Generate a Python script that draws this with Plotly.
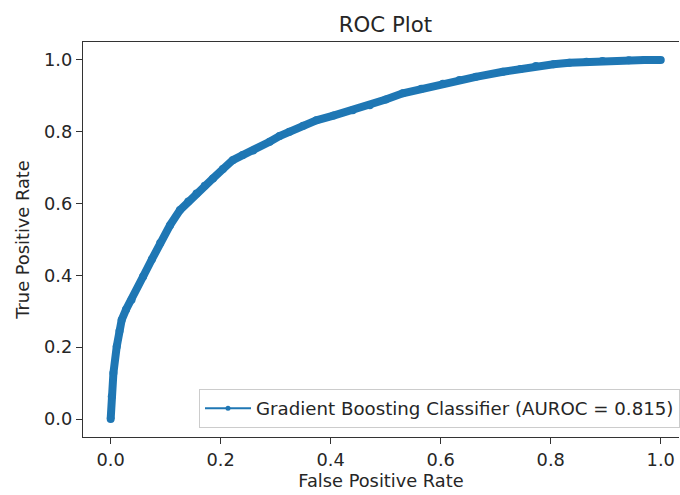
import plotly.graph_objects as go

# ROC curve of the gradient boosting classifier
fpr = [0.000, 0.002, 0.005, 0.011, 0.016, 0.020, 0.028, 0.038, 0.059, 0.075,
       0.090, 0.108, 0.126, 0.141, 0.156, 0.171, 0.186, 0.204, 0.222, 0.240,
       0.259, 0.289, 0.307, 0.325, 0.350, 0.374, 0.405, 0.440, 0.471, 0.500,
       0.531, 0.565, 0.604, 0.634, 0.664, 0.713, 0.745, 0.773, 0.805, 0.834,
       0.865, 0.894, 0.942, 0.970, 1.000]
tpr = [0.000, 0.063, 0.128, 0.202, 0.245, 0.276, 0.305, 0.332, 0.397, 0.445,
       0.490, 0.540, 0.582, 0.606, 0.628, 0.650, 0.670, 0.696, 0.721, 0.735,
       0.748, 0.772, 0.788, 0.800, 0.817, 0.832, 0.845, 0.860, 0.874, 0.890,
       0.907, 0.920, 0.934, 0.944, 0.953, 0.967, 0.975, 0.983, 0.988, 0.992,
       0.995, 0.997, 0.999, 1.000, 1.000]
auroc = 0.815
model_name = "Gradient Boosting Classifier"
tick_vals = [0.0, 0.2, 0.4, 0.6, 0.8, 1.0]

BLUE = "#1f77b4"
INK = "#262626"
FONT = "DejaVu Sans"
TXT = 17.8

fig = go.Figure()

# dense band of overlapping point markers
fig.add_trace(go.Scatter(
    x=fpr, y=tpr, mode="lines+markers",
    line=dict(color=BLUE, width=8),
    marker=dict(color=BLUE, size=8),
    showlegend=False, hoverinfo="skip",
))
# thin line-with-dots style (drives the legend entry)
fig.add_trace(go.Scatter(
    x=fpr, y=tpr, mode="lines+markers",
    line=dict(color=BLUE, width=2),
    marker=dict(color=BLUE, size=5),
    name=f"{model_name} (AUROC = {auroc})",
))

axis_common = dict(
    showline=True, linecolor="#333333", linewidth=1.3,
    ticks="outside", ticklen=6, tickwidth=1.3, tickcolor="#333333",
    showgrid=False, zeroline=False,
    tickvals=tick_vals, tickformat=".1f",
    tickfont=dict(family=FONT, size=TXT, color=INK),
)

fig.update_layout(
    width=680, height=495,
    margin=dict(l=83, r=0, t=42, b=58),
    paper_bgcolor="white", plot_bgcolor="white",
    font=dict(family=FONT, size=TXT, color=INK),
    title=dict(text="ROC Plot", x=0.5075, xref="paper", xanchor="center",
               y=1 - 25 / 495, yref="container", yanchor="middle",
               font=dict(family=FONT, size=21.3, color=INK)),
    xaxis=dict(range=[-0.0503, 1.0332], mirror=True,
               title=dict(text="False Positive Rate", standoff=5,
                          font=dict(family=FONT, size=TXT, color=INK)),
               **axis_common),
    yaxis=dict(range=[-0.05, 1.05],
               title=dict(text="True Positive Rate", standoff=9,
                          font=dict(family=FONT, size=TXT, color=INK)),
               **axis_common),
    legend=dict(x=1.0017, y=0.0228, xanchor="right", yanchor="bottom",
                itemwidth=46,
                bgcolor="rgba(255,255,255,0.8)", bordercolor="#cccccc",
                borderwidth=1, font=dict(family=FONT, size=18.2, color=INK)),
)

fig.write_html("out.html")
